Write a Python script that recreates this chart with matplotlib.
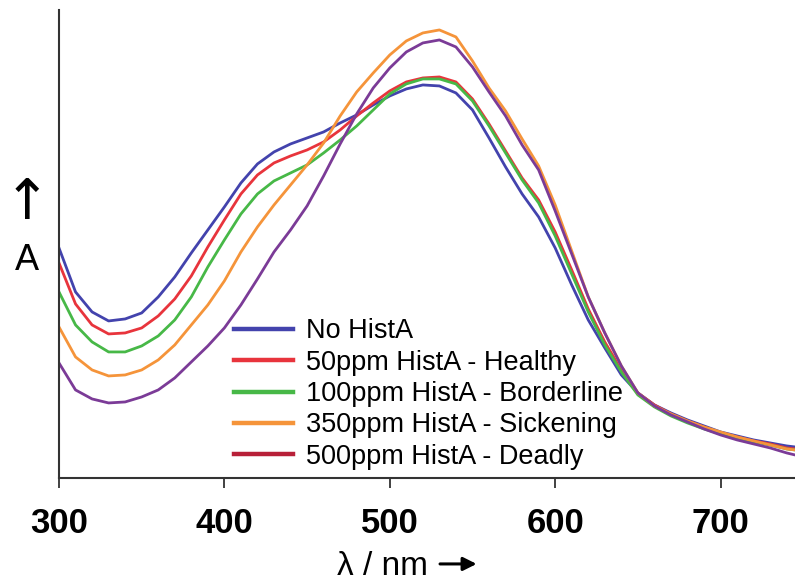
import numpy as np
import matplotlib
matplotlib.use("Agg")
import matplotlib.pyplot as plt

plt.rcParams['font.family'] = ['Liberation Sans', 'DejaVu Sans']

# våglängder (nm)
wl = [300, 310, 320, 330, 340, 350, 360, 370, 380, 390, 400, 410, 420, 430, 440,
      450, 460, 470, 480, 490, 500, 510, 520, 530, 540, 550, 560, 570, 580, 590,
      600, 610, 620, 630, 640, 650, 660, 670, 680, 690, 700, 710, 720, 730, 740, 745]

# absorbans, godtyckliga enheter
no_hista = [230, 186, 166, 157, 159, 165, 181, 201, 225, 248, 271, 295, 314, 326, 334,
            340, 346, 355, 363, 373, 382, 389, 393, 392, 385, 368, 340, 311, 284, 261,
            230, 193, 158, 130, 103, 85, 73, 65, 58, 52, 46, 42, 38, 35, 32, 31]
ppm50 = [215, 174, 153, 144, 145, 150, 162, 179, 202, 231, 258, 284, 303, 315, 322,
         328, 336, 348, 362, 375, 387, 396, 400, 401, 396, 379, 354, 327, 300, 278,
         246, 208, 169, 136, 108, 85, 73, 64, 57, 51, 45, 41, 37, 34, 30, 29]
ppm100 = [186, 153, 136, 126, 126, 132, 142, 158, 181, 211, 238, 264, 284, 297, 305,
          313, 325, 338, 352, 368, 384, 394, 399, 399, 394, 377, 352, 325, 298, 275,
          242, 204, 166, 133, 106, 83, 71, 62, 55, 49, 44, 40, 36, 33, 29, 28]
ppm350 = [151, 121, 108, 102, 103, 108, 118, 133, 153, 173, 197, 226, 251, 273, 293,
          313, 335, 362, 386, 405, 423, 437, 445, 448, 441, 417, 390, 367, 339, 312,
          273, 227, 181, 145, 112, 85, 72, 64, 57, 51, 46, 41, 37, 33, 29, 28]
ppm500 = [115, 88, 79, 75, 76, 81, 88, 100, 116, 132, 150, 173, 199, 226, 248,
          272, 302, 334, 364, 390, 410, 426, 435, 438, 431, 411, 386, 362, 333, 308,
          267, 224, 181, 145, 112, 85, 72, 63, 56, 49, 43, 38, 34, 30, 25, 23]

labels = ["No HistA", "50ppm HistA - Healthy", "100ppm HistA - Borderline",
          "350ppm HistA - Sickening", "500ppm HistA - Deadly"]
colors = ["#4343ad", "#e8343c", "#47b847", "#f5943a", "#7b3b97"]
legend_colors = ["#4343ad", "#e8343c", "#47b847", "#f5943a", "#b82038"]

fig = plt.figure(figsize=(7.95, 5.85), dpi=100)
ax = fig.add_axes([0.0742, 0.183, 0.9258, 0.800])

for y, c, lab in zip([no_hista, ppm50, ppm100, ppm350, ppm500], colors, labels):
    ax.plot(wl, y, color=c, lw=2.0, label=lab)

ax.set_xlim(300, 745)
ax.set_ylim(0, 468)
ax.set_xticks([300, 400, 500, 600, 700])
ax.set_yticks([])
ax.tick_params(axis='x', direction='out', length=7, width=1.3, color='#333333',
               labelsize=25, pad=14)
for t in ax.get_xticklabels():
    t.set_fontweight('bold')
for s in ['top', 'right']:
    ax.spines[s].set_visible(False)
for s in ['left', 'bottom']:
    ax.spines[s].set_color('#333333')
    ax.spines[s].set_linewidth(1.5)

# axeltexter
fig.text(0.481, 0.031, "λ / nm", fontsize=24, ha='center', va='center')
ax.annotate("", xy=(0.603, 0.036), xytext=(0.550, 0.036), xycoords='figure fraction',
            arrowprops=dict(arrowstyle='-|>', lw=2.2, color='black', mutation_scale=20))
fig.text(0.034, 0.652, "↑", fontsize=40, ha='center', va='center', family='DejaVu Sans')
fig.text(0.034, 0.555, "A", fontsize=26, ha='center', va='center')

leg = ax.legend(loc='upper left', bbox_to_anchor=(0.294, 0.456), bbox_transform=fig.transFigure,
                frameon=False, fontsize=19.5, handlelength=2.2, handletextpad=0.45,
                labelspacing=0.2, borderpad=0, borderaxespad=0)
for h, c in zip(leg.legend_handles, legend_colors):
    h.set_color(c)
    h.set_linewidth(3.2)

fig.savefig("out.png", dpi=100)
